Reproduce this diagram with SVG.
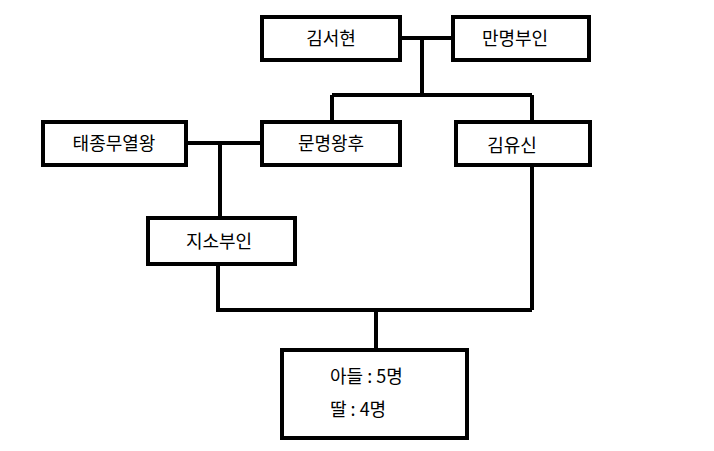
<svg xmlns="http://www.w3.org/2000/svg" width="714" height="451" viewBox="0 0 714 451">
<style>
.b{fill:#fff;stroke:#000;stroke-width:4}
.l{fill:none;stroke:#000;stroke-width:4}
text{font-family:"Noto Sans CJK KR","Noto Sans",sans-serif;font-size:18px;fill:#000}
.c{text-anchor:middle}
</style>
<rect width="714" height="451" fill="#fff"/>
<g id="connectors">
<path class="l" d="M400 38H453M422 38V95M332 95H532M332 95V122M532 95V122M186 143H262M220 143V218M218 264V310H532M532 165V310M376 310V350"/>
</g>
<g id="n1"><rect class="b" x="262" y="17" width="138" height="43"/><text class="c" x="331" y="45">김서현</text></g>
<g id="n2"><rect class="b" x="453" y="17" width="136" height="43"/><text class="c" x="515" y="45">만명부인</text></g>
<g id="n3"><rect class="b" x="43" y="122" width="143" height="43"/><text class="c" x="114" y="150">태종무열왕</text></g>
<g id="n4"><rect class="b" x="262" y="122" width="138" height="43"/><text class="c" x="331" y="150">문명왕후</text></g>
<g id="n5"><rect class="b" x="456" y="122" width="134" height="43"/><text class="c" x="512" y="152">김유신</text></g>
<g id="n6"><rect class="b" x="148" y="218" width="147" height="46"/><text class="c" x="219" y="248">지소부인</text></g>
<g id="n7"><rect class="b" x="282" y="350" width="185" height="88"/><text x="330" y="383">아들 : 5명</text><text x="330" y="416">딸 : 4명</text></g>
</svg>
